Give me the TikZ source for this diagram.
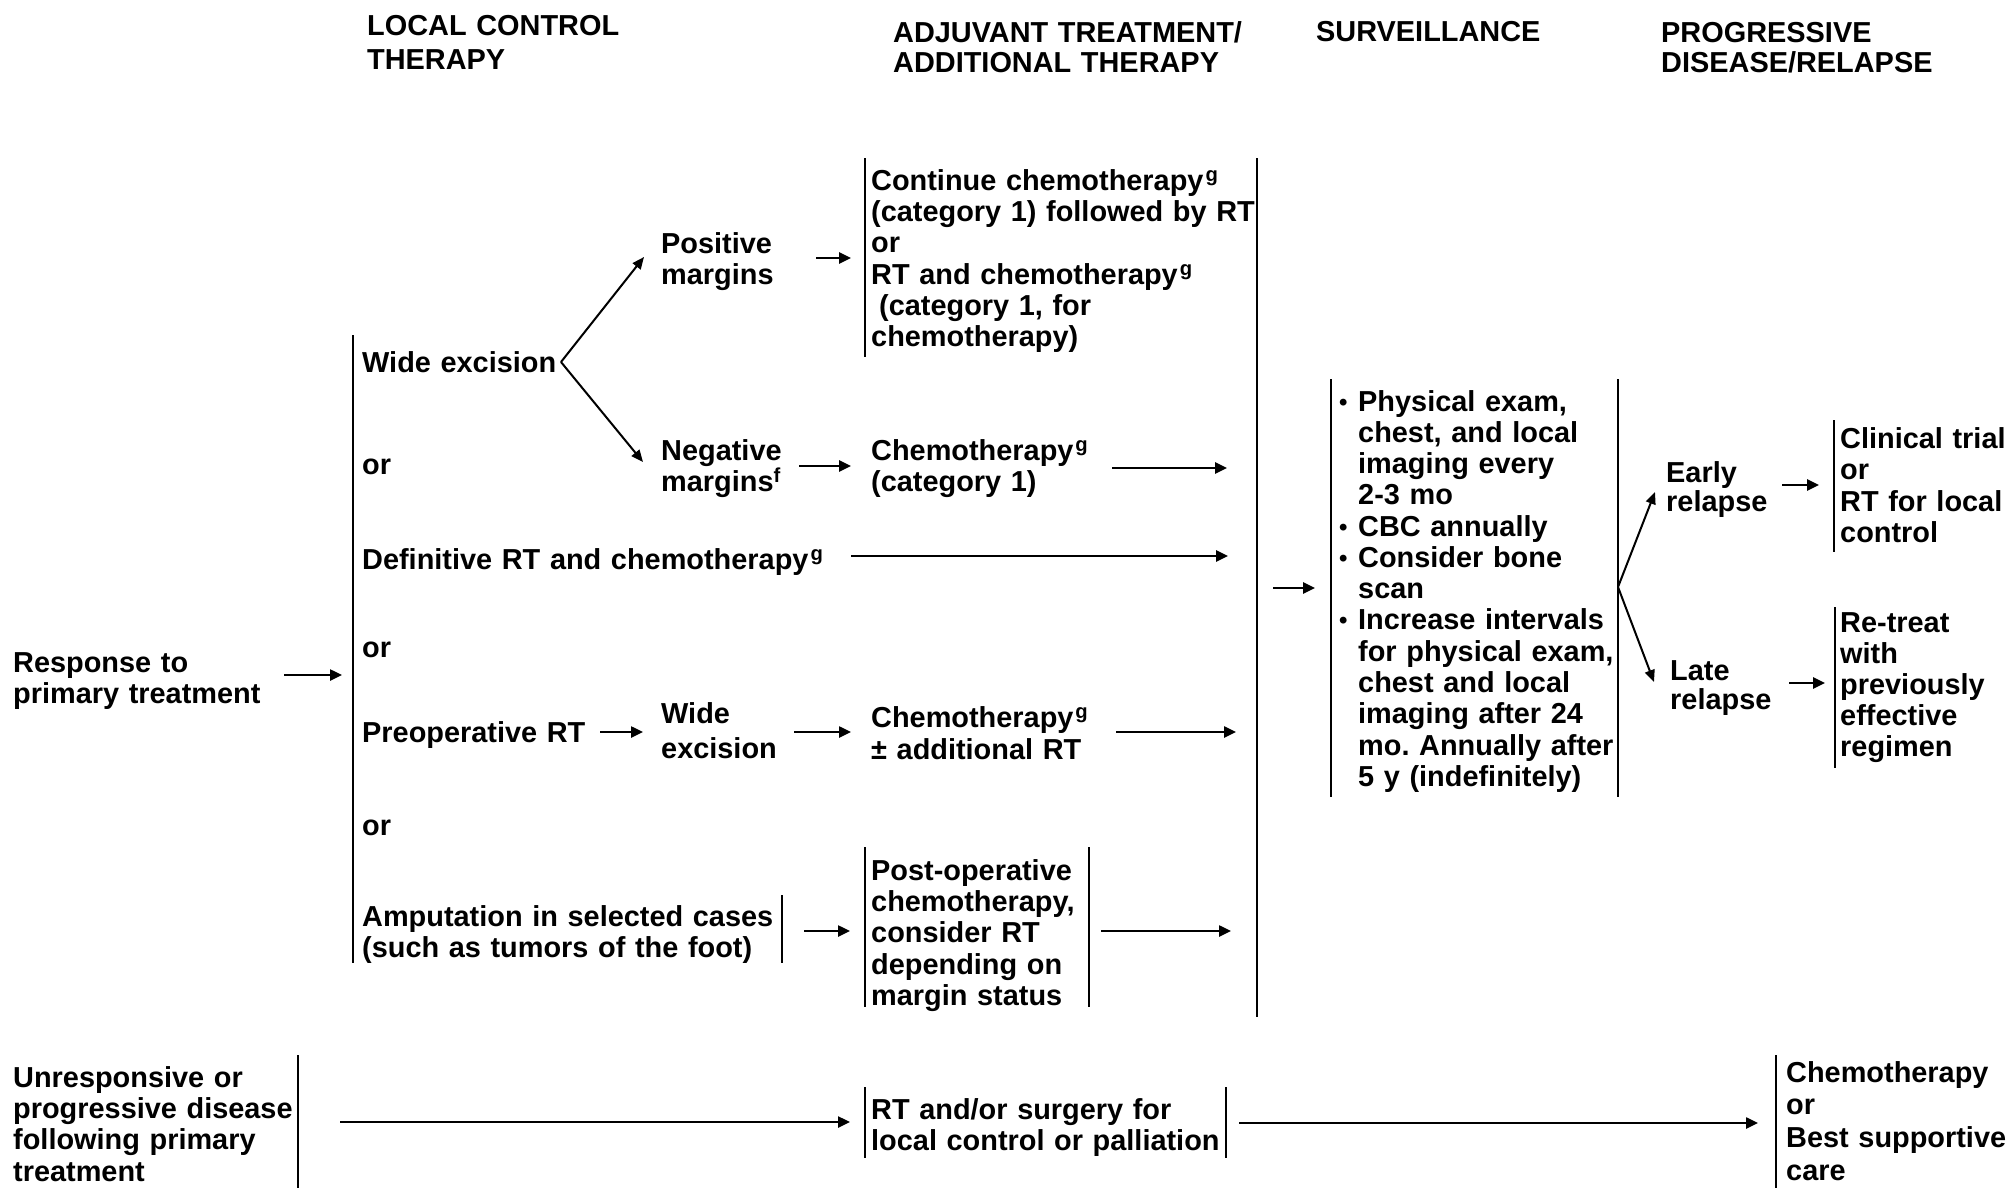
\documentclass[tikz,border=0pt]{standalone}
\usepackage{fontspec}
\setmainfont{Liberation Sans}
\usetikzlibrary{arrows.meta}
\frenchspacing
\hyphenpenalty=10000
\exhyphenpenalty=10000
\newcommand\fnref[1]{\hspace{2bp}\textsuperscript{#1}}
\newcommand\bul{\makebox[22bp][l]{\hspace*{3bp}\fontsize{24}{24}\selectfont\raisebox{1bp}{•}}}
\begin{document}
\begin{tikzpicture}[x=1bp,y=-1bp,
  txt/.style={anchor=base west, inner sep=0pt, align=left, text width=800bp,
    font=\fontsize{29}{31.5}\selectfont\bfseries},
  bar/.style={line width=2bp},
  arr/.style={line width=2.5bp, -{Triangle[length=12bp,width=11bp]}},
  thin arr/.style={line width=2bp, -{Triangle[length=12bp,width=10bp]}}]
\useasboundingbox (0,0) rectangle (2007,1188);

% ---- column headings ----
\node[txt, font=\fontsize{29}{35}\selectfont\bfseries] (hLocal) at (367,35) {LOCAL CONTROL\\THERAPY};
\node[txt, font=\fontsize{29}{31}\selectfont\bfseries] (hAdj) at (893,42) {ADJUVANT TREATMENT/\\ADDITIONAL THERAPY};
\node[txt] (hSurv) at (1316,41) {SURVEILLANCE};
\node[txt, font=\fontsize{29}{31}\selectfont\bfseries] (hProg) at (1661,42) {PROGRESSIVE\\DISEASE/RELAPSE};

% ---- entry ----
\node[txt] (resp) at (13,672) {Response to\\primary treatment};

% ---- local control options ----
\node[txt] (wide) at (362,372) {Wide excision};
\node[txt] (or1) at (362,474) {or};
\node[txt] (defin) at (362,569) {Definitive RT and chemotherapy\fnref{g}};
\node[txt] (or2) at (362,657) {or};
\node[txt] (preop) at (362,742) {Preoperative RT};
\node[txt] (or3) at (362,835) {or};
\node[txt] (amput) at (362,926) {Amputation in selected cases\\(such as tumors of the foot)};

\node[txt] (posm) at (661,253) {Positive\\margins};
\node[txt] (negm) at (661,460) {Negative\\margins\textsuperscript{f}};
\node[txt, font=\fontsize{29}{36}\selectfont\bfseries] (wide2) at (661,723) {Wide\\excision};

% ---- adjuvant / additional therapy ----
\node[txt] (cont) at (871,190) {Continue chemotherapy\fnref{g}\\(category 1) followed by RT\\or\\RT and chemotherapy\fnref{g}\\\hspace*{8bp}(category 1, for\\chemotherapy)};
\node[txt] (chemoA) at (871,460) {Chemotherapy\fnref{g}\\(category 1)};
\node[txt, font=\fontsize{29}{33}\selectfont\bfseries] (chemoB) at (871,727) {Chemotherapy\fnref{g}\\± additional RT};
\node[txt] (postop) at (871,880) {Post-operative\\chemotherapy,\\consider RT\\depending on\\margin status};

% ---- surveillance ----
\node[txt, font=\fontsize{29}{31.4}\selectfont\bfseries] (surv) at (1336,411) {%
\bul Physical exam,\\
\hspace*{22bp}chest, and local\\
\hspace*{22bp}imaging every\\
\hspace*{22bp}2-3 mo\\
\bul CBC annually\\
\bul Consider bone\\
\hspace*{22bp}scan\\
\bul Increase intervals\\
\hspace*{22bp}for physical exam,\\
\hspace*{22bp}chest and local\\
\hspace*{22bp}imaging after 24\\
\hspace*{22bp}mo. Annually after\\
\hspace*{22bp}5 y (indefinitely)};

% ---- progressive disease / relapse ----
\node[txt, font=\fontsize{29}{30}\selectfont\bfseries] (early) at (1666,482) {Early\\relapse};
\node[txt, font=\fontsize{29}{30}\selectfont\bfseries] (late) at (1670,680) {Late\\relapse};
\node[txt, font=\fontsize{29}{31.7}\selectfont\bfseries] (trial) at (1840,448) {Clinical trial\\or\\RT for local\\control};
\node[txt, font=\fontsize{29}{31.3}\selectfont\bfseries] (retreat) at (1840,632) {Re-treat\\with\\previously\\effective\\regimen};

% ---- unresponsive disease ----
\node[txt] (unresp) at (13,1087) {Unresponsive or\\progressive disease\\following primary\\treatment};
\node[txt] (rtsurg) at (871,1119) {RT and/or surgery for\\local control or palliation};
\node[txt, font=\fontsize{29}{33}\selectfont\bfseries] (chemoC) at (1786,1082) {Chemotherapy\\or\\Best supportive\\care};

% ---- side rules of the groups ----
\coordinate (mainLt) at (353,335);   \coordinate (mainLb) at (353,963);
\coordinate (amputRt) at (782,895);  \coordinate (amputRb) at (782,963);
\coordinate (contLt) at (865,158);   \coordinate (contLb) at (865,357);
\coordinate (adjRt) at (1257,158);   \coordinate (adjRb) at (1257,1017);
\coordinate (postLt) at (865,847);   \coordinate (postLb) at (865,1007);
\coordinate (postRt) at (1089,847);  \coordinate (postRb) at (1089,1007);
\coordinate (survLt) at (1331,379);  \coordinate (survLb) at (1331,797);
\coordinate (survRt) at (1618,379);  \coordinate (survRb) at (1618,797);
\coordinate (trialLt) at (1834,420); \coordinate (trialLb) at (1834,552);
\coordinate (retrLt) at (1835,607);  \coordinate (retrLb) at (1835,768);
\coordinate (unrRt) at (298,1055);   \coordinate (unrRb) at (298,1188);
\coordinate (rtLt) at (865,1087);    \coordinate (rtLb) at (865,1158);
\coordinate (rtRt) at (1226,1087);   \coordinate (rtRb) at (1226,1158);
\coordinate (chCLt) at (1776,1055);  \coordinate (chCLb) at (1776,1188);

\foreach \a/\b in {mainLt/mainLb, amputRt/amputRb, contLt/contLb, adjRt/adjRb,
  postLt/postLb, postRt/postRb, survLt/survLb, survRt/survRb, trialLt/trialLb,
  retrLt/retrLb, unrRt/unrRb, rtLt/rtLb, rtRt/rtRb, chCLt/chCLb}
  \draw[bar] (\a) -- (\b);

% ---- connector end points ----
\coordinate (respOut) at (284,675);   \coordinate (respIn) at (342,675);
\coordinate (wideApex) at (561,362);
\coordinate (posmIn) at (644,257);    \coordinate (negmIn) at (643,462);
\coordinate (posmOut) at (816,258);   \coordinate (contIn) at (851,258);
\coordinate (negmOut) at (799,466);   \coordinate (chemoAIn) at (851,466);
\coordinate (chemoAOut) at (1112,468);\coordinate (adjIn1) at (1227,468);
\coordinate (definOut) at (851,556);  \coordinate (adjIn2) at (1228,556);
\coordinate (preopOut) at (600,732);  \coordinate (wide2In) at (643,732);
\coordinate (wide2Out) at (794,732);  \coordinate (chemoBIn) at (851,732);
\coordinate (chemoBOut) at (1116,732);\coordinate (adjIn3) at (1236,732);
\coordinate (amputOut) at (804,931);  \coordinate (postIn) at (850,931);
\coordinate (postOut) at (1101,931);  \coordinate (adjIn4) at (1231,931);
\coordinate (adjOut) at (1273,588);   \coordinate (survIn) at (1315,588);
\coordinate (survApex) at (1618,587);
\coordinate (earlyIn) at (1655,492);  \coordinate (lateIn) at (1654,682);
\coordinate (earlyOut) at (1782,485); \coordinate (trialIn) at (1819,485);
\coordinate (lateOut) at (1789,683);  \coordinate (retrIn) at (1825,683);
\coordinate (unrOut) at (340,1122);   \coordinate (rtIn) at (850,1122);
\coordinate (rtOut) at (1239,1123);   \coordinate (chCIn) at (1758,1123);

% ---- connectors ----
\draw[arr] (respOut) -- (respIn);
\draw[thin arr] (wideApex) -- (posmIn);
\draw[thin arr] (wideApex) -- (negmIn);
\draw[arr] (posmOut) -- (contIn);
\draw[arr] (negmOut) -- (chemoAIn);
\draw[arr] (chemoAOut) -- (adjIn1);
\draw[arr] (definOut) -- (adjIn2);
\draw[arr] (preopOut) -- (wide2In);
\draw[arr] (wide2Out) -- (chemoBIn);
\draw[arr] (chemoBOut) -- (adjIn3);
\draw[arr] (amputOut) -- (postIn);
\draw[arr] (postOut) -- (adjIn4);
\draw[arr] (adjOut) -- (survIn);
\draw[thin arr] (survApex) -- (earlyIn);
\draw[thin arr] (survApex) -- (lateIn);
\draw[arr] (earlyOut) -- (trialIn);
\draw[arr] (lateOut) -- (retrIn);
\draw[arr] (unrOut) -- (rtIn);
\draw[arr] (rtOut) -- (chCIn);
\end{tikzpicture}
\end{document}
